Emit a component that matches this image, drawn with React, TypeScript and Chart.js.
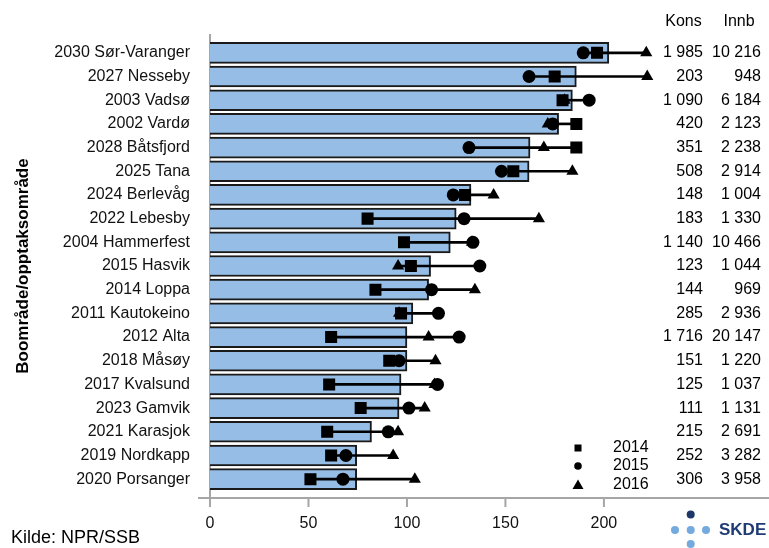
import { useEffect, useRef } from 'react';
import { Chart, registerables } from 'chart.js';

Chart.register(...registerables);

const categories = [
  '2030 Sør-Varanger', '2027 Nesseby', '2003 Vadsø', '2002 Vardø', '2028 Båtsfjord',
  '2025 Tana', '2024 Berlevåg', '2022 Lebesby', '2004 Hammerfest', '2015 Hasvik',
  '2014 Loppa', '2011 Kautokeino', '2012 Alta', '2018 Måsøy', '2017 Kvalsund',
  '2023 Gamvik', '2021 Karasjok', '2019 Nordkapp', '2020 Porsanger',
];
const avgRate = [202.5, 186, 184, 177, 162.5, 162, 132.5, 125, 122, 112, 111, 103, 100, 100, 97, 96, 82, 74.5, 74.5];
const rate2014 = [196.5, 175, 179, 186, 186, 154, 129.5, 80, 98.5, 102, 84, 97, 61.5, 91, 60.5, 76.5, 59.5, 61.5, 51];
const rate2015 = [189.5, 162, 192.5, 174, 131.5, 148, 123.5, 129, 133.5, 137, 112.5, 116, 126.5, 96, 115.5, 101, 90.5, 69, 67.5];
const rate2016 = [221.5, 222, 180, 171.5, 169.5, 184, 144, 167, 133, 95.5, 134.5, 96, 111, 114.5, 114, 109, 95.5, 93, 104];
const kons = [1985, 203, 1090, 420, 351, 508, 148, 183, 1140, 123, 144, 285, 1716, 151, 125, 111, 215, 252, 306];
const innb = [10216, 948, 6184, 2123, 2238, 2914, 1004, 1330, 10466, 1044, 969, 2936, 20147, 1220, 1037, 1131, 2691, 3282, 3958];
const xTicks = [0, 50, 100, 150, 200];
const yearLabels = ['2014', '2015', '2016'];
const axisTitle = 'Boområde/opptaksområde';
const sourceText = 'Kilde: NPR/SSB';

const FONT = '"Liberation Sans", Arial, sans-serif';

const fmt = (n: number) => String(n).replace(/\B(?=(\d{3})+(?!\d))/g, ' ');

const overlayPlugin = {
  id: 'overlay',
  beforeDatasetsDraw(chart: any) {
    const ctx = chart.ctx;
    const xs = chart.scales.x;
    const left = chart.chartArea.left;
    const axisY = 498;
    ctx.save();
    ctx.strokeStyle = '#a6a6a6';
    ctx.lineWidth = 2;
    ctx.beginPath();
    ctx.moveTo(198, axisY);
    ctx.lineTo(769, axisY);
    ctx.moveTo(left, 34);
    ctx.lineTo(left, axisY);
    xTicks.forEach((v) => {
      const px = xs.getPixelForValue(v);
      ctx.moveTo(px, axisY);
      ctx.lineTo(px, axisY + 9);
    });
    ctx.stroke();
    ctx.restore();
  },
  afterDraw(chart: any) {
    const ctx = chart.ctx;
    const ys = chart.scales.y;
    ctx.save();
    ctx.fillStyle = '#000';
    ctx.font = `16px ${FONT}`;
    ctx.textBaseline = 'middle';
    ctx.textAlign = 'center';
    ctx.fillText('Kons', 683.5, 22);
    ctx.fillText('Innb', 739, 22);
    ctx.textAlign = 'right';
    categories.forEach((_, i) => {
      const py = ys.getPixelForValue(i);
      ctx.fillText(fmt(kons[i]), 703, py);
      ctx.fillText(fmt(innb[i]), 761, py);
    });

    // legend
    const lx = 578;
    const ly = [448, 466, 485];
    ctx.fillStyle = '#000';
    ctx.fillRect(lx - 3.5, ly[0] - 3.5, 7, 7);
    ctx.beginPath();
    ctx.arc(lx, ly[1], 3.8, 0, Math.PI * 2);
    ctx.fill();
    ctx.beginPath();
    ctx.moveTo(lx, ly[2] - 5.5);
    ctx.lineTo(lx + 5.5, ly[2] + 4);
    ctx.lineTo(lx - 5.5, ly[2] + 4);
    ctx.closePath();
    ctx.fill();
    ctx.textAlign = 'left';
    yearLabels.forEach((t, i) => ctx.fillText(t, 613, ly[i]));

    // source
    ctx.font = `18px ${FONT}`;
    ctx.fillText(sourceText, 11, 538);

    // logo
    ctx.fillStyle = '#1c3768';
    ctx.beginPath();
    ctx.arc(690.7, 514.5, 4, 0, Math.PI * 2);
    ctx.fill();
    ctx.fillStyle = '#74aade';
    [[675, 530], [690.7, 530], [706, 530], [690.7, 544]].forEach(([cx, cy]) => {
      ctx.beginPath();
      ctx.arc(cx, cy, 4, 0, Math.PI * 2);
      ctx.fill();
    });
    ctx.fillStyle = '#1f3b73';
    ctx.font = `bold 17px ${FONT}`;
    ctx.fillText('SKDE', 719, 530);
    ctx.restore();
  },
};

export default function App() {
  const ref = useRef<HTMLCanvasElement | null>(null);

  useEffect(() => {
    if (!ref.current) return;
    const toPts = (arr: number[]) => arr.map((v, i) => ({ x: v, y: categories[i] }));
    const ranges = categories.map((_, i) => [
      Math.min(rate2014[i], rate2015[i], rate2016[i]),
      Math.max(rate2014[i], rate2015[i], rate2016[i]),
    ]);
    const chart = new Chart(ref.current, {
      type: 'bar',
      data: {
        labels: categories,
        datasets: [
          {
            type: 'bar',
            label: 'Gjennomsnitt',
            data: avgRate,
            backgroundColor: '#95bde6',
            borderColor: '#1a1a1a',
            borderWidth: 2,
            barThickness: 21,
            grouped: false,
            order: 4,
          } as any,
          {
            type: 'bar',
            label: 'range',
            data: ranges,
            backgroundColor: '#000',
            borderWidth: 0,
            barThickness: 2,
            grouped: false,
            order: 3,
          } as any,
          {
            type: 'line',
            label: yearLabels[2],
            data: toPts(rate2016),
            showLine: false,
            pointStyle: 'triangle',
            pointRadius: 7,
            pointBackgroundColor: '#000',
            pointBorderWidth: 0,
            order: 2,
          } as any,
          {
            type: 'line',
            label: yearLabels[1],
            data: toPts(rate2015),
            showLine: false,
            pointStyle: 'circle',
            pointRadius: 6.5,
            pointBackgroundColor: '#000',
            pointBorderWidth: 0,
            order: 1,
          } as any,
          {
            type: 'line',
            label: yearLabels[0],
            data: toPts(rate2014),
            showLine: false,
            pointStyle: 'rect',
            pointRadius: 8.5,
            pointBackgroundColor: '#000',
            pointBorderWidth: 0,
            order: 0,
          } as any,
        ],
      },
      options: {
        indexAxis: 'y',
        responsive: false,
        animation: false,
        devicePixelRatio: 1,
        layout: { padding: { top: 41, right: 106, bottom: 0, left: 0 } },
        plugins: { legend: { display: false }, tooltip: { enabled: false } },
        scales: {
          x: {
            type: 'linear',
            position: 'bottom',
            min: 0,
            max: 230,
            grid: { display: false },
            border: { display: false },
            afterBuildTicks: (s: any) => {
              s.ticks = xTicks.map((v) => ({ value: v }));
            },
            afterFit: (s: any) => {
              s.height = 57;
            },
            ticks: { font: { size: 16, family: FONT }, color: '#111', padding: 15, maxRotation: 0 },
          },
          y: {
            type: 'category',
            offset: true,
            grid: { display: false },
            border: { display: false },
            afterFit: (s: any) => {
              s.width = 210;
            },
            ticks: { font: { size: 16, family: FONT }, color: '#111', padding: 12, autoSkip: false },
            title: {
              display: true,
              text: axisTitle,
              color: '#000',
              font: { size: 17, weight: 'bold', family: FONT },
              padding: { top: 13, bottom: 0 },
            },
          },
        },
      } as any,
      plugins: [overlayPlugin],
    });
    return () => chart.destroy();
  }, []);

  return (
    <div style={{ position: 'fixed', left: 0, top: 0, width: 769, height: 548, background: '#fff' }}>
      <canvas ref={ref} width={769} height={548} style={{ display: 'block' }} />
    </div>
  );
}
